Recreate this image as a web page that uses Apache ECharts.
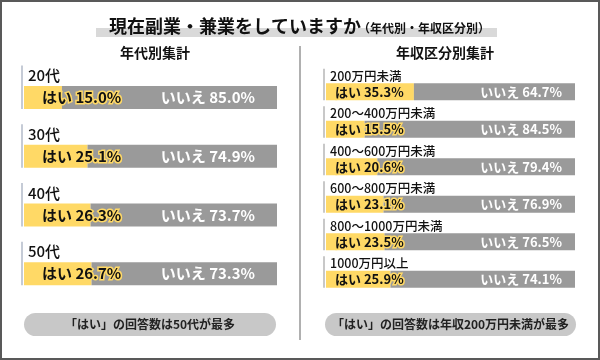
<!DOCTYPE html>
<html><head><meta charset="utf-8">
<script src="https://cdn.jsdelivr.net/npm/echarts@6/dist/echarts.min.js"></script>
<style>html,body{margin:0;padding:0;background:#fff}#c{width:600px;height:360px}</style>
</head><body><div id="c"></div>
<script>
const FONT = "'Noto Sans CJK JP', 'Noto Sans', sans-serif";
const ageCats = ['20代', '30代', '40代', '50代'];
const ageYes = [15.0, 25.1, 26.3, 26.7];
const ageNo = [85.0, 74.9, 73.7, 73.3];
const incCats = ['200万円未満', '200～400万円未満', '400～600万円未満', '600～800万円未満', '800～1000万円未満', '1000万円以上'];
const incYes = [35.3, 15.5, 20.6, 23.1, 23.5, 25.9];
const incNo = [64.7, 84.5, 79.4, 76.9, 76.5, 74.1];
const titleText = '現在副業・兼業をしていますか';
const titleSub = '（年代別・年収区分別）';
const leftTitle = '年代別集計';
const rightTitle = '年収区分別集計';
const leftNote = '「はい」の回答数は50代が最多';
const rightNote = '「はい」の回答数は年収200万円未満が最多';

const YELLOW = '#FFD966', GRAY = '#9a9a9a';

function groupRender(cats, labelOff, lineTop, barH, fs, lineColor) {
  return function (params, api) {
    const idx = api.value(1);
    const p = api.coord([0, idx]);
    return {
      type: 'group', children: [
        { type: 'rect', shape: { x: p[0] - 3, y: p[1] - lineTop, width: 2, height: lineTop + barH / 2 }, style: { fill: lineColor } },
        { type: 'text', x: p[0] + 4, y: p[1] - labelOff, style: { text: cats[idx], fill: '#111', font: '500 ' + fs + 'px ' + FONT, verticalAlign: 'middle', align: 'left' } }
      ]
    };
  };
}

function panelSeries(gi, cats, yes, no, barH, fs, dist, labelOff, lineTop, lineColor, gfs) {
  return [
    { type: 'bar', xAxisIndex: gi, yAxisIndex: gi, stack: 's' + gi, barWidth: barH, data: yes,
      itemStyle: { color: YELLOW },
      label: { show: true, position: 'insideLeft', distance: dist, formatter: p => 'はい ' + p.value.toFixed(1) + '%',
        color: '#111', fontFamily: FONT, fontWeight: 'bold', fontSize: fs, textBorderColor: YELLOW, textBorderWidth: 3 } },
    { type: 'bar', xAxisIndex: gi, yAxisIndex: gi, stack: 's' + gi, barWidth: barH, data: no,
      itemStyle: { color: GRAY },
      label: { show: true, position: 'insideRight', distance: dist + 4, formatter: p => 'いいえ ' + p.value.toFixed(1) + '%',
        color: '#fff', fontFamily: FONT, fontWeight: 'bold', fontSize: fs } },
    { type: 'custom', xAxisIndex: gi, yAxisIndex: gi, data: cats.map((c, i) => [0, c]),
      encode: { x: 0, y: 1 }, renderItem: groupRender(cats, labelOff, lineTop, barH, gfs, lineColor), silent: true }
  ];
}

const chart = echarts.init(document.getElementById('c'), null, { renderer: 'canvas' });
chart.setOption({
  animation: false,
  backgroundColor: '#fff',
  grid: [
    { left: 24, width: 253, top: 68, height: 235 },
    { left: 326, width: 249, top: 73, height: 225 }
  ],
  xAxis: [
    { gridIndex: 0, type: 'value', min: 0, max: 100, show: false },
    { gridIndex: 1, type: 'value', min: 0, max: 100, show: false }
  ],
  yAxis: [
    { gridIndex: 0, type: 'category', data: ageCats, inverse: true, show: false },
    { gridIndex: 1, type: 'category', data: incCats, inverse: true, show: false }
  ],
  series: [
    ...panelSeries(0, ageCats, ageYes, ageNo, 23, 15, 18, 22, 32, '#c5cbd6', 15),
    ...panelSeries(1, incCats, incYes, incNo, 17, 13, 9, 16, 23, '#c8c8c8', 12.5)
  ],
  graphic: [
    { type: 'rect', shape: { x: 1, y: 1, width: 598, height: 358 }, style: { fill: 'none', stroke: '#595959', lineWidth: 2 }, silent: true },
    { type: 'rect', shape: { x: 96, y: 28, width: 401, height: 9 }, style: { fill: '#d9d9d9' }, z: 0 },
    { type: 'text', x: 109, y: 26, style: { text: titleText, font: 'bold 18px ' + FONT, fill: '#111', verticalAlign: 'middle' }, z: 2 },
    { type: 'text', x: 358, y: 28, style: { text: titleSub, font: 'bold 12px ' + FONT, fill: '#111', verticalAlign: 'middle' }, z: 2 },
    { type: 'text', x: 155, y: 53, style: { text: leftTitle, font: 'bold 14px ' + FONT, fill: '#111', align: 'center', verticalAlign: 'middle' } },
    { type: 'text', x: 445, y: 53, style: { text: rightTitle, font: 'bold 14px ' + FONT, fill: '#111', align: 'center', verticalAlign: 'middle' } },
    { type: 'rect', shape: { x: 299, y: 46, width: 2, height: 294 }, style: { fill: '#b0b0b0' } },
    { type: 'rect', shape: { x: 24, y: 313, width: 252, height: 23, r: 11.5 }, style: { fill: '#c8c8c8' } },
    { type: 'text', x: 150, y: 324.5, style: { text: leftNote, font: 'bold 12px ' + FONT, fill: '#222', align: 'center', verticalAlign: 'middle' } },
    { type: 'rect', shape: { x: 325, y: 313, width: 251, height: 23, r: 11.5 }, style: { fill: '#c8c8c8' } },
    { type: 'text', x: 450.5, y: 324.5, style: { text: rightNote, font: 'bold 12px ' + FONT, fill: '#222', align: 'center', verticalAlign: 'middle' } }
  ]
});
</script></body></html>
